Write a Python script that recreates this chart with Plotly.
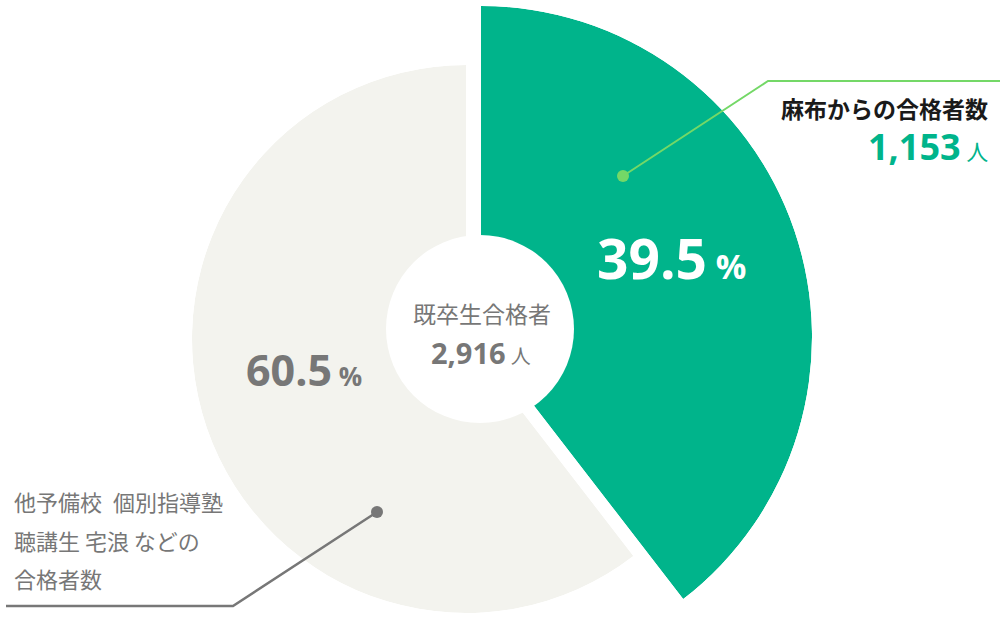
import math
import plotly.graph_objects as go

# ---------------- data ----------------
categories = ["麻布からの合格者数", "他予備校 個別指導塾 聴講生 宅浪 などの合格者数"]
counts = [1153, 1763]
total_label = "既卒生合格者"
percent_labels = ["39.5", "60.5"]
left_label_lines = ["他予備校\u2002個別指導塾", "聴講生 宅浪 などの", "合格者数"]
unit_person = "人"
unit_pct = "%"

GREEN = "#00b48b"
GRAY_FILL = "#f3f3ee"
GRAY_TEXT = "#777777"
LEADER_GREEN = "#74d867"

W, H = 1000, 620


def px(x):
    return x / W


def py(y):
    return 1 - y / H


total = sum(counts)
green_angle = 360 * counts[0] / total
gray_angle = 360 - green_angle

fig = go.Figure()

# green slice (its own polar subplot, larger radius, shifted right)
g_cx, g_cy, g_r = 481, 337, 331
g_ylow = math.cos(math.radians(green_angle))  # sin(90 - angle)
fig.add_trace(go.Barpolar(
    r=[1], theta=[green_angle / 2], width=[green_angle], base=[0],
    marker=dict(color=GREEN, line=dict(width=0)),
    subplot="polar", hoverinfo="skip", showlegend=False,
    name=categories[0],
))

# gray slice
k_cx, k_cy, k_r = 466, 339, 274
k_xhigh = math.cos(math.radians(450 - green_angle))
fig.add_trace(go.Barpolar(
    r=[1], theta=[green_angle + gray_angle / 2], width=[gray_angle], base=[0],
    marker=dict(color=GRAY_FILL, line=dict(width=0)),
    subplot="polar2", hoverinfo="skip", showlegend=False,
    name=categories[1],
))

common_angular = dict(rotation=90, direction="clockwise", visible=False)
common_radial = dict(range=[0, 1], visible=False)

fig.update_layout(
    width=W, height=H,
    margin=dict(l=0, r=0, t=0, b=0),
    paper_bgcolor="white",
    plot_bgcolor="white",
    font=dict(family="Open Sans, Noto Sans CJK JP", color=GRAY_TEXT),
    polar=dict(
        domain=dict(x=[px(g_cx), px(g_cx + g_r)],
                    y=[py(g_cy - g_r * g_ylow), py(g_cy - g_r)]),
        sector=[90 - green_angle, 90],
        bgcolor="rgba(0,0,0,0)", hole=0,
        angularaxis=common_angular, radialaxis=common_radial,
    ),
    polar2=dict(
        domain=dict(x=[px(k_cx - k_r), px(k_cx + k_r * k_xhigh)],
                    y=[py(k_cy + k_r), py(k_cy - k_r)]),
        sector=[90, 450 - green_angle],
        bgcolor="rgba(0,0,0,0)", hole=0,
        angularaxis=common_angular, radialaxis=common_radial,
    ),
)

shapes = []
# center hole
h_cx, h_cy, h_r = 480, 329, 94
shapes.append(dict(type="circle", xref="paper", yref="paper", layer="above",
                   x0=px(h_cx - h_r), x1=px(h_cx + h_r),
                   y0=py(h_cy + h_r), y1=py(h_cy - h_r),
                   fillcolor="white", line=dict(width=0)))
# green leader
shapes.append(dict(type="path", xref="paper", yref="paper", layer="above",
                   path=f"M {px(623)} {py(176)} L {px(768)} {py(81)} L {px(1000)} {py(81)}",
                   line=dict(color=LEADER_GREEN, width=2)))
shapes.append(dict(type="circle", xref="paper", yref="paper", layer="above",
                   x0=px(617), x1=px(629), y0=py(182), y1=py(170),
                   fillcolor=LEADER_GREEN, line=dict(width=0)))
# gray leader
shapes.append(dict(type="path", xref="paper", yref="paper", layer="above",
                   path=f"M {px(377)} {py(512)} L {px(233)} {py(606)} L {px(6)} {py(606)}",
                   line=dict(color=GRAY_TEXT, width=2.5)))
shapes.append(dict(type="circle", xref="paper", yref="paper", layer="above",
                   x0=px(371), x1=px(383), y0=py(518), y1=py(506),
                   fillcolor=GRAY_TEXT, line=dict(width=0)))
fig.update_layout(shapes=shapes)

CJK = "Noto Sans CJK JP"
ann = []


def add(text, x, y, size, color, xanchor="center", family="Open Sans, Noto Sans CJK JP"):
    ann.append(dict(text=text, x=px(x), y=py(y), xref="paper", yref="paper",
                    xanchor=xanchor, yanchor="middle", showarrow=False,
                    font=dict(size=size, color=color, family=family)))


# center
add(total_label, 482, 313, 23, GRAY_TEXT, family=CJK)
add(f"<b>{total:,}</b><span style='font-size:20px'> {unit_person}</span>", 481, 352, 29, GRAY_TEXT)
# percents
add(f"<b>{percent_labels[0]}</b><span style='font-size:34px'><b> {unit_pct}</b></span>", 672, 257, 55, "white")
add(f"<b>{percent_labels[1]}</b><span style='font-size:26px'><b> {unit_pct}</b></span>", 304, 369, 43, GRAY_TEXT)
# right label
add(f"<b>{categories[0]}</b>", 990, 108, 23, "#1a1a1a", xanchor="right", family=CJK)
add(f"<b>{counts[0]:,}</b><span style='font-size:22px'> {unit_person}</span>", 990, 147, 36, GREEN, xanchor="right")
# left label
for i, line in enumerate(left_label_lines):
    add(line, 12, 501 + i * 38.5, 22, GRAY_TEXT, xanchor="left", family=CJK)

fig.update_layout(annotations=ann)

fig.write_html(
    "out.html",
    config={"displayModeBar": False, "staticPlot": True},
    post_script="document.body.style.margin='0';document.body.style.overflow='hidden';",
)
